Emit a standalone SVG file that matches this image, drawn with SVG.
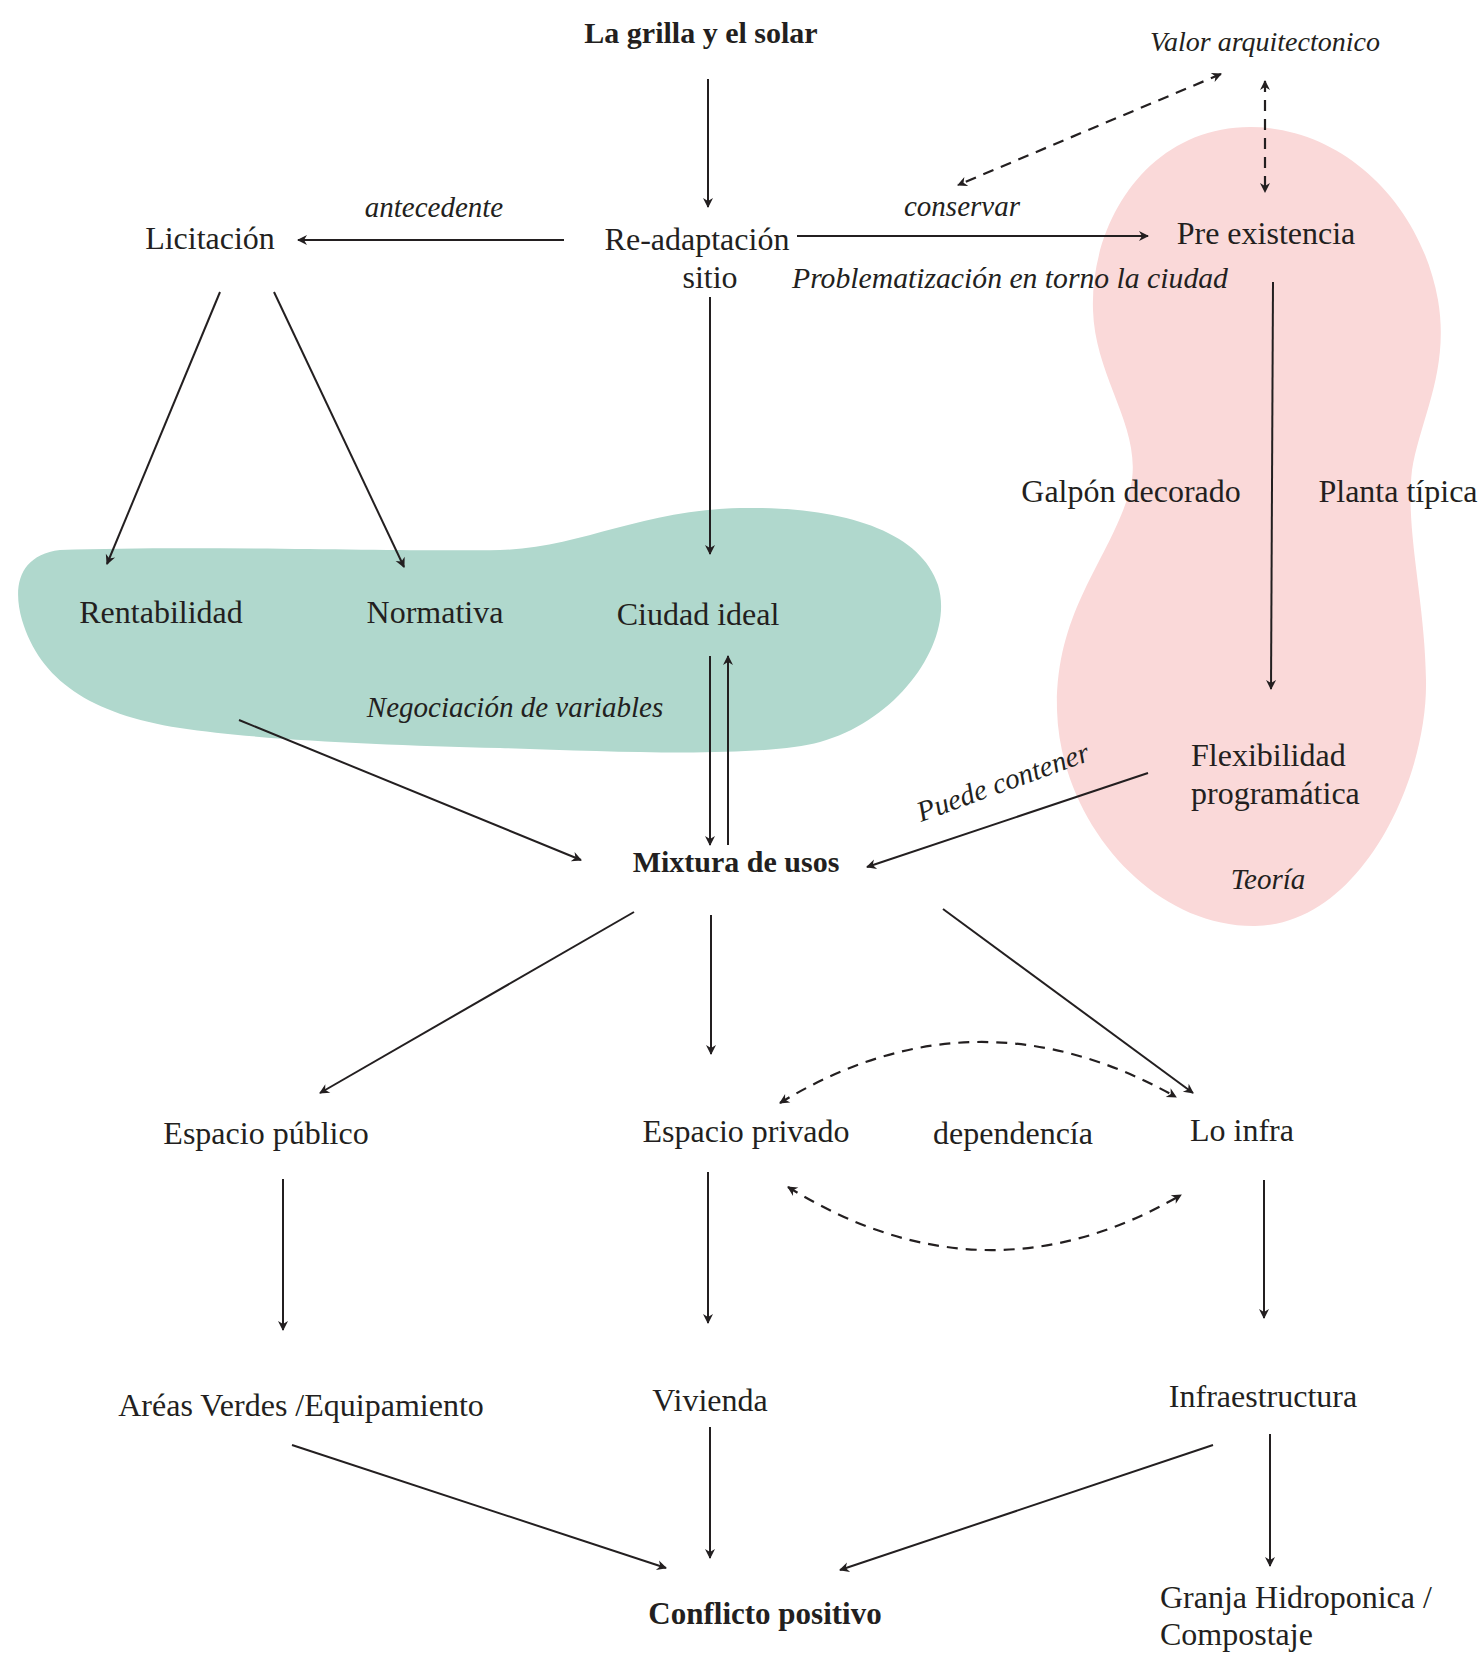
<svg xmlns="http://www.w3.org/2000/svg" width="1484" height="1654" viewBox="0 0 1484 1654">
<style>
text{font-family:"Liberation Serif","DejaVu Serif",serif;fill:#231f20}
.n{font-size:32px}
.b{font-size:30px;font-weight:bold}
.i{font-size:29px;font-style:italic}
.c{text-anchor:middle}
.l{fill:none;stroke:#231f20;stroke-width:2}
.d{fill:none;stroke:#231f20;stroke-width:2.2;stroke-dasharray:11 8}
</style>
<defs>
<marker id="ah" viewBox="-11 -6 13 12" refX="0" refY="0" markerWidth="13" markerHeight="12" markerUnits="userSpaceOnUse" orient="auto-start-reverse">
<path d="M1,0 L-9,-5 L-6,0 L-9,5 Z" fill="#231f20"/>
</marker>
</defs>
<rect width="1484" height="1654" fill="#ffffff"/>
<g id="zona-negociacion">
<path d="M 60 550 C 200 545, 400 552, 500 550 C 580 548, 640 510, 740 508 C 840 506, 920 530, 938 585 C 955 640, 900 720, 820 742 C 760 758, 620 752, 500 748 C 380 745, 260 740, 180 728 C 90 714, 40 680, 22 620 C 12 585, 20 555, 60 550 Z" fill="#b0d8cd"/>
</g>
<g id="zona-teoria">
<path d="M 1250 127 C 1340 127, 1420 200, 1438 300 C 1450 370, 1420 420, 1412 470 C 1405 530, 1425 600, 1426 680 C 1428 780, 1360 925, 1255 926 C 1150 927, 1060 820, 1057 710 C 1055 610, 1110 560, 1130 490 C 1145 430, 1095 380, 1093 310 C 1090 220, 1150 127, 1250 127 Z" fill="#fad9d9"/>
</g>
<g id="connectors" marker-end="url(#ah)">
<line class="l" x1="708" y1="79" x2="708" y2="207"/>
<line class="l" x1="564" y1="240" x2="298" y2="240"/>
<line class="l" x1="797" y1="236" x2="1148" y2="236"/>
<line class="d" x1="1221" y1="74" x2="958" y2="185" marker-start="url(#ah)"/>
<line class="d" x1="1265" y1="81" x2="1265" y2="192" marker-start="url(#ah)"/>
<line class="l" x1="220" y1="292" x2="107" y2="564"/>
<line class="l" x1="274" y1="292" x2="404" y2="567"/>
<line class="l" x1="710" y1="297" x2="710" y2="554"/>
<line class="l" x1="1273" y1="282" x2="1271" y2="689"/>
<line class="l" x1="710" y1="656" x2="710" y2="845"/>
<line class="l" x1="728" y1="845" x2="728" y2="656"/>
<line class="l" x1="239" y1="720" x2="581" y2="860"/>
<line class="l" x1="1148" y1="773" x2="867" y2="867"/>
<line class="l" x1="634" y1="912" x2="320" y2="1093"/>
<line class="l" x1="711" y1="915" x2="711" y2="1054"/>
<line class="l" x1="943" y1="909" x2="1193" y2="1093"/>
<path class="d" d="M 780 1103 Q 975 984 1176 1097" marker-start="url(#ah)"/>
<path class="d" d="M 788 1187 Q 985 1309 1181 1195" marker-start="url(#ah)"/>
<line class="l" x1="283" y1="1179" x2="283" y2="1330"/>
<line class="l" x1="708" y1="1172" x2="708" y2="1323"/>
<line class="l" x1="1264" y1="1180" x2="1264" y2="1318"/>
<line class="l" x1="292" y1="1445" x2="666" y2="1568"/>
<line class="l" x1="710" y1="1427" x2="710" y2="1558"/>
<line class="l" x1="1213" y1="1445" x2="840" y2="1570"/>
<line class="l" x1="1270" y1="1434" x2="1270" y2="1566"/>
</g>
<g id="la-grilla"><text class="b c" x="701" y="43">La grilla y el solar</text></g>
<g id="valor"><text class="i c" x="1265" y="51" style="font-size:28px">Valor arquitectonico</text></g>
<g id="licitacion"><text class="n c" x="210" y="249">Licitación</text></g>
<g id="lbl-antecedente"><text class="i c" x="434" y="217">antecedente</text></g>
<g id="readaptacion"><text class="n c" x="697" y="250">Re-adaptación</text><text class="n c" x="710" y="288">sitio</text></g>
<g id="lbl-conservar"><text class="i c" x="962" y="216">conservar</text></g>
<g id="pre-existencia"><text class="n c" x="1266" y="244">Pre existencia</text></g>
<g id="lbl-problematizacion"><text class="i" x="792" y="288" style="font-size:29.7px">Problematización en torno la ciudad</text></g>
<g id="galpon"><text class="n c" x="1131" y="502">Galpón decorado</text></g>
<g id="planta"><text class="n c" x="1398" y="502">Planta típica</text></g>
<g id="rentabilidad"><text class="n c" x="161" y="623">Rentabilidad</text></g>
<g id="normativa"><text class="n c" x="435" y="623">Normativa</text></g>
<g id="ciudad-ideal"><text class="n c" x="698" y="625">Ciudad ideal</text></g>
<g id="lbl-negociacion"><text class="i c" x="515" y="717">Negociación de variables</text></g>
<g id="flexibilidad"><text class="n" x="1191" y="766">Flexibilidad</text><text class="n" x="1191" y="804">programática</text></g>
<g id="lbl-teoria"><text class="i c" x="1268" y="889">Teoría</text></g>
<g id="lbl-puede"><text class="i" x="921" y="822" transform="rotate(-20 921 822)">Puede contener</text></g>
<g id="mixtura"><text class="b c" x="736" y="872">Mixtura de usos</text></g>
<g id="espacio-publico"><text class="n c" x="266" y="1144">Espacio público</text></g>
<g id="espacio-privado"><text class="n c" x="746" y="1142">Espacio privado</text></g>
<g id="lbl-dependencia"><text class="n c" x="1013" y="1144">dependencía</text></g>
<g id="lo-infra"><text class="n c" x="1242" y="1141">Lo infra</text></g>
<g id="areas"><text class="n c" x="301" y="1416">Aréas Verdes /Equipamiento</text></g>
<g id="vivienda"><text class="n c" x="710" y="1411">Vivienda</text></g>
<g id="infraestructura"><text class="n c" x="1263" y="1407">Infraestructura</text></g>
<g id="conflicto"><text class="b c" x="765" y="1624" style="font-size:31px">Conflicto positivo</text></g>
<g id="granja"><text class="n" x="1160" y="1608">Granja Hidroponica /</text><text class="n" x="1160" y="1645">Compostaje</text></g>
</svg>
